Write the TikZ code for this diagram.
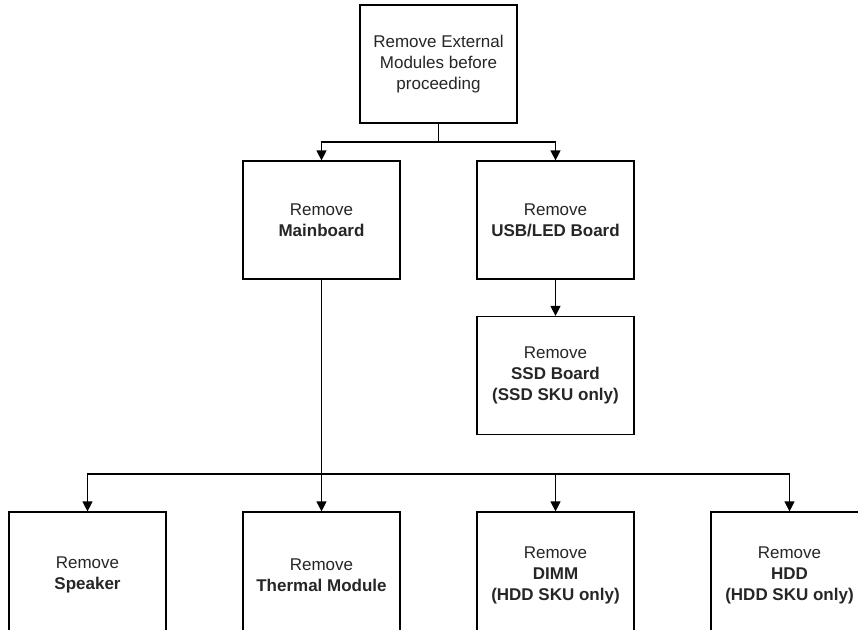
\documentclass[tikz,border=0pt]{standalone}
\usepackage{fontspec}
\setmainfont{Liberation Sans}
\usetikzlibrary{positioning, arrows.meta}

\begin{document}
\begin{tikzpicture}[x=1pt, y=-1pt,
  every node/.style={draw, line width=1.2pt, minimum width=157pt, minimum height=118pt, align=center, text=black!85, font=\fontsize{17}{21}\selectfont, inner sep=0pt},
  lowbox/.style={minimum height=126pt},
  link/.style={line width=1.2pt},
  arrow/.style={link, -{Triangle[width=10pt, length=10pt]}}]
\clip (0,0) rectangle (858,629);
\fill[white] (0,0) rectangle (858,629);

\node (external) at (438.5,64) {Remove External\\Modules before\\proceeding};
\node (mainboard) at (321.5,220) {Remove\\\textbf{Mainboard}};
\node (usbled) at (555.5,220) {Remove\\\textbf{USB/LED Board}};
\node (ssd) at (555.5,375.5) {Remove\\\textbf{SSD Board}\\\textbf{(SSD SKU only)}};
\node[lowbox] (speaker) at (87.5,575) {Remove\\\textbf{Speaker}};
\node[lowbox] (thermal) at (321.5,575) {Remove\\\textbf{Thermal Module}};
\node[lowbox] (dimm) at (555.5,575) {Remove\\\textbf{DIMM}\\\textbf{(HDD SKU only)}};
\node[lowbox] (hdd) at (789.5,575) {Remove\\\textbf{HDD}\\\textbf{(HDD SKU only)}};

% upper branch
\coordinate (split) at (external.south |- 0,142);
\draw[link] (external.south) -- (split);
\draw[arrow] (split) -| (mainboard.north);
\draw[arrow] (split) -| (usbled.north);
\draw[arrow] (usbled) -- (ssd);

% lower branch
\coordinate (joint) at (mainboard.south |- 0,474);
\draw[arrow] (mainboard) -- (thermal);
\draw[arrow] (joint) -| (speaker.north);
\draw[arrow] (joint) -| (dimm.north);
\draw[arrow] (joint) -| (hdd.north);
\end{tikzpicture}
\end{document}
